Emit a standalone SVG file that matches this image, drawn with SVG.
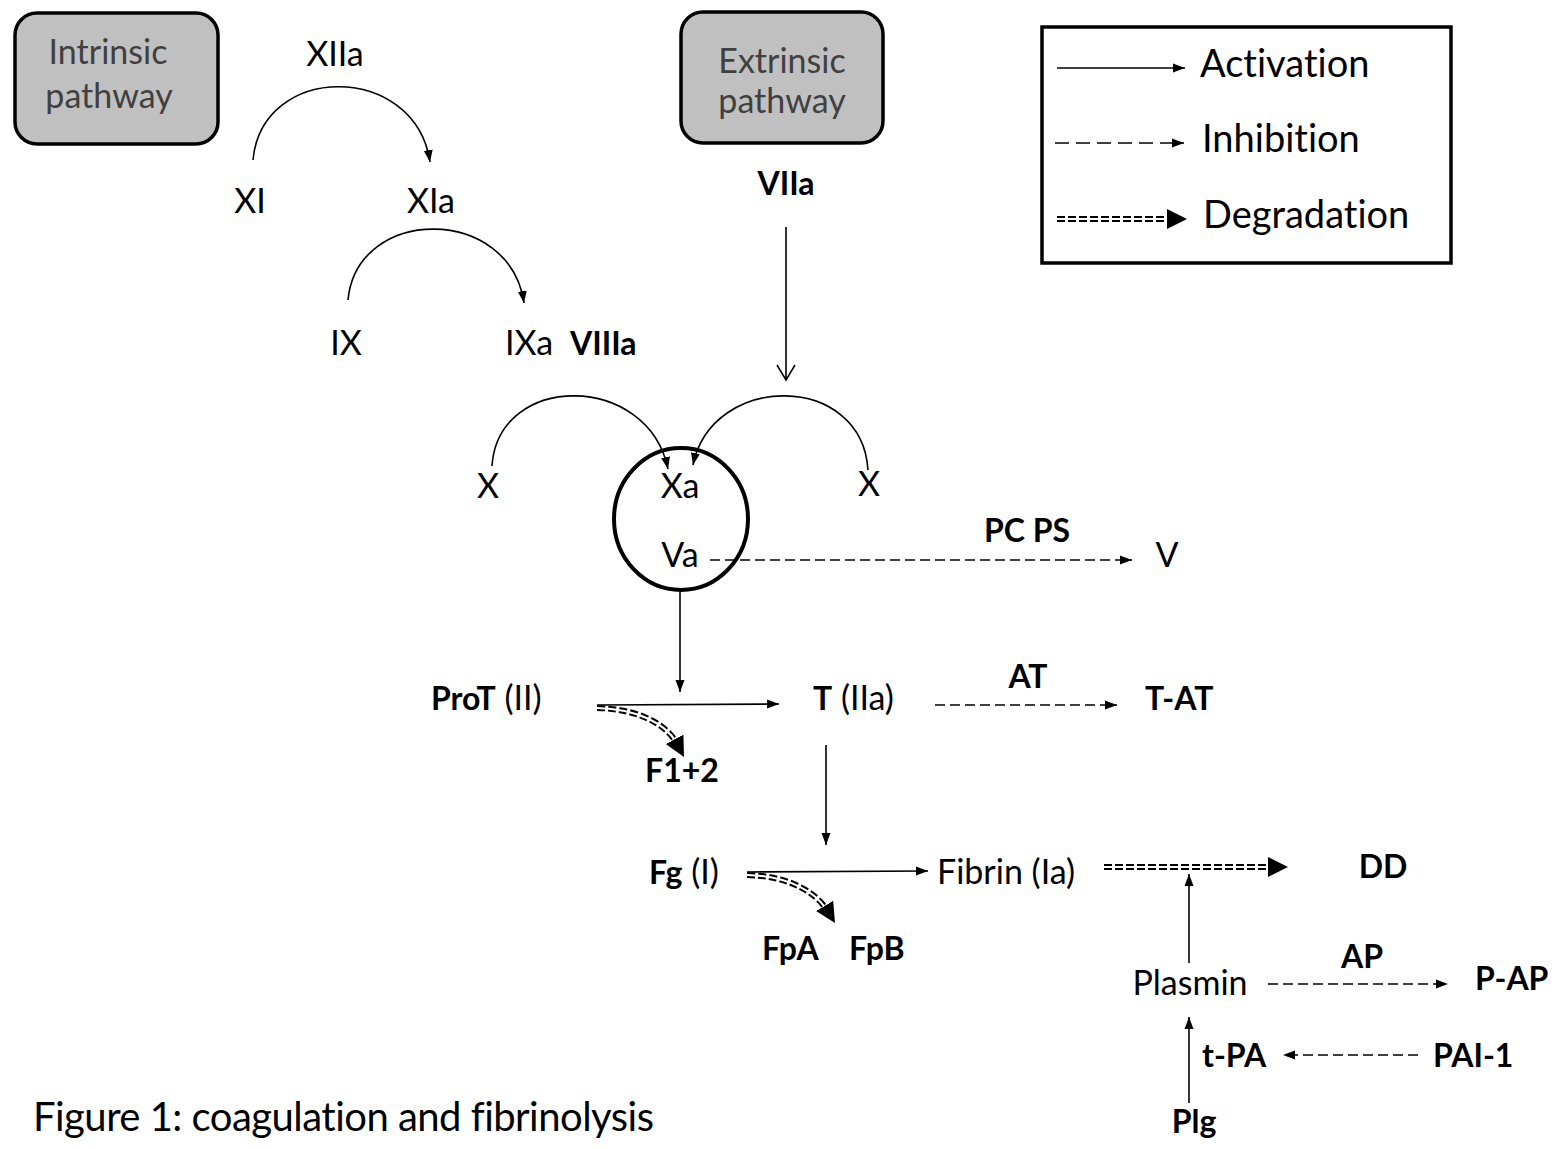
<svg xmlns="http://www.w3.org/2000/svg" width="1555" height="1149" viewBox="0 0 1555 1149">
<style>
text{font-family:Lato,"Open Sans","Liberation Sans",sans-serif;font-size:34px;fill:#000;font-variant-ligatures:none}
.b{font-weight:bold;font-size:32px}
.m{text-anchor:middle}
.bx{fill:#404040;font-size:34px}
.lg{font-size:38px}
.cap{font-size:40px}
.box{fill:#c0c0c0;stroke:#000;stroke-width:3.5}
.ln{fill:none;stroke:#000;stroke-width:1.6}
.ds{fill:none;stroke:#000;stroke-width:1.6;stroke-dasharray:10 5}
.dd{fill:none;stroke:#000;stroke-width:6;stroke-dasharray:8 3}
.ddw{fill:none;stroke:#fff;stroke-width:2}
.ddm{fill:none;stroke:none}
</style>
<defs>
<marker id="a" markerUnits="userSpaceOnUse" markerWidth="14" markerHeight="10" refX="12" refY="5" orient="auto"><path d="M0,0.5 L12,5 L0,9.5 z" fill="#000"/></marker>
<marker id="big" markerUnits="userSpaceOnUse" markerWidth="22" markerHeight="22" refX="20" refY="11" orient="auto"><path d="M0,1 L20,11 L0,21 z" fill="#000"/></marker>
<marker id="open" markerUnits="userSpaceOnUse" markerWidth="20" markerHeight="24" refX="16" refY="12" orient="auto"><path d="M1,3 L16,12 L1,21" fill="none" stroke="#000" stroke-width="1.5"/></marker>
</defs>

<g id="intrinsic">
<rect class="box" x="15" y="13" width="203" height="131" rx="22"/>
<text class="bx m" x="108" y="64">Intrinsic</text>
<text class="bx m" x="109" y="108">pathway</text>
</g>
<g id="extrinsic">
<rect class="box" x="681" y="12" width="202" height="131" rx="22"/>
<text class="bx m" x="782" y="73">Extrinsic</text>
<text class="bx m" x="782" y="113">pathway</text>
</g>

<g id="legend">
<rect x="1042" y="27" width="409" height="236" fill="#fff" stroke="#000" stroke-width="3.5"/>
<path class="ln" d="M1057,68 L1185,68" marker-end="url(#a)"/>
<path class="ln" d="M1055,143 L1184,143" stroke-dasharray="14 7" marker-end="url(#a)"/>
<path class="dd" d="M1057,219 L1168,219"/>
<path class="ddw" d="M1057,219 L1168,219"/>
<path class="ddm" d="M1057,219 L1187,219" marker-end="url(#big)"/>
<text class="lg" x="1200" y="77">Activation</text>
<text class="lg" x="1202" y="152">Inhibition</text>
<text class="lg" x="1203" y="228">Degradation</text>
</g>

<g id="complex">
<ellipse cx="681" cy="519" rx="67" ry="71" fill="none" stroke="#000" stroke-width="4"/>
</g>

<g id="connectors">
<path class="ln" d="M253,160 C262,62 415,62 430,162" marker-end="url(#a)"/>
<path class="ln" d="M348,300 C357,205 510,205 524,303" marker-end="url(#a)"/>
<path class="ln" d="M786,227 L786,380" marker-end="url(#open)"/>
<path class="ln" d="M492,466 C498,372 648,372 668,469" marker-end="url(#a)"/>
<path class="ln" d="M868,470 C862,372 712,372 693,465" marker-end="url(#a)"/>
<path class="ds" d="M710,560 L1132,560" marker-end="url(#a)"/>
<path class="ln" d="M680,592 L680,692" marker-end="url(#a)"/>
<path class="ln" d="M597,705 L779,704" marker-end="url(#a)"/>
<path class="dd" d="M597,708 C640,709 666,725 676,742" stroke-dasharray="6 3"/>
<path class="ddw" d="M597,708 C640,709 666,725 676,742"/>
<path class="ddm" d="M597,708 C640,709 668,727 684,757" marker-end="url(#big)"/>
<path class="ds" d="M935,705 L1117,705" marker-end="url(#a)"/>
<path class="ln" d="M826,745 L826,845" marker-end="url(#a)"/>
<path class="ln" d="M747,872 L928,871" marker-end="url(#a)"/>
<path class="dd" d="M747,875 C790,876 816,893 826,909" stroke-dasharray="6 3"/>
<path class="ddw" d="M747,875 C790,876 816,893 826,909"/>
<path class="ddm" d="M747,875 C790,876 818,895 835,923" marker-end="url(#big)"/>
<path class="dd" d="M1104,867 L1268,867"/>
<path class="ddw" d="M1104,867 L1268,867"/>
<path class="ddm" d="M1104,867 L1288,867" marker-end="url(#big)"/>
<path class="ln" d="M1189,963 L1189,874" marker-end="url(#a)"/>
<path class="ds" d="M1268,984 L1448,984" marker-end="url(#a)"/>
<path class="ln" d="M1189,1103 L1189,1017" marker-end="url(#a)"/>
<path class="ds" d="M1418,1055 L1283,1055" marker-end="url(#a)"/>
</g>

<g id="n-XIIa"><text class="m" x="335" y="66">XIIa</text></g>
<g id="n-XI"><text class="m" x="250" y="213">XI</text></g>
<g id="n-XIa"><text class="m" x="431" y="213">XIa</text></g>
<g id="n-IX"><text class="m" x="346" y="355">IX</text></g>
<g id="n-IXa"><text class="m" x="529" y="355">IXa</text></g>
<g id="n-VIIIa"><text class="b" x="570" y="355">VIIIa</text></g>
<g id="n-VIIa"><text class="b m" x="786" y="195">VIIa</text></g>
<g id="n-X1"><text class="m" x="488" y="498">X</text></g>
<g id="n-Xa"><text class="m" x="680" y="498">Xa</text></g>
<g id="n-X2"><text class="m" x="869" y="496">X</text></g>
<g id="n-Va"><text class="m" x="680" y="567">Va</text></g>
<g id="n-PCPS"><text class="b m" x="1027" y="542">PC PS</text></g>
<g id="n-V"><text class="m" x="1167" y="567">V</text></g>
<g id="n-ProT"><text x="431" y="710"><tspan class="b">ProT</tspan> (II)</text></g>
<g id="n-T"><text x="813" y="710"><tspan class="b">T</tspan> (IIa)</text></g>
<g id="n-AT"><text class="b m" x="1028" y="688">AT</text></g>
<g id="n-TAT"><text class="b" x="1145" y="710">T-AT</text></g>
<g id="n-F12"><text class="b m" x="682" y="782">F1+2</text></g>
<g id="n-Fg"><text x="649" y="884"><tspan class="b">Fg</tspan> (I)</text></g>
<g id="n-Fibrin"><text x="937" y="884">Fibrin (Ia)</text></g>
<g id="n-DD"><text class="b m" x="1383" y="878">DD</text></g>
<g id="n-FpA"><text class="b" x="762" y="960">FpA</text></g>
<g id="n-FpB"><text class="b" x="849" y="960">FpB</text></g>
<g id="n-Plasmin"><text class="m" x="1190" y="995">Plasmin</text></g>
<g id="n-AP"><text class="b m" x="1362" y="968">AP</text></g>
<g id="n-PAP"><text class="b" x="1475" y="990">P-AP</text></g>
<g id="n-tPA"><text class="b" x="1202" y="1067">t-PA</text></g>
<g id="n-PAI1"><text class="b" x="1433" y="1067">PAI-1</text></g>
<g id="n-Plg"><text class="b m" x="1194" y="1133">Plg</text></g>
<g id="caption"><text class="cap" x="33" y="1131" textLength="621" lengthAdjust="spacing">Figure 1: coagulation and fibrinolysis</text></g>
</svg>
